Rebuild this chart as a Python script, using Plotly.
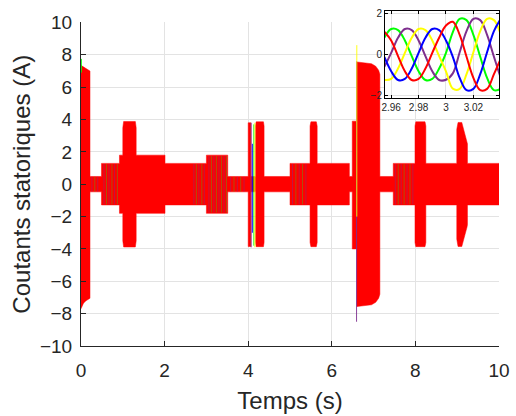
import plotly.graph_objects as go

# ---------------- main chart: envelope of the 5 stator currents ----------------
ENV_T = [0.0, 0.06, 0.12, 0.215, 0.215, 0.49, 0.49, 0.92, 0.92, 1.0, 1.0, 1.02, 1.30, 1.32, 1.32,
         2.01, 2.01, 3.0, 3.0, 3.51, 3.51, 4.0, 4.0, 4.065, 4.065, 4.175, 4.175, 4.19, 4.365, 4.38,
         4.38, 5.0, 5.0, 5.48, 5.48, 5.50, 5.63, 5.65, 5.65, 6.42, 6.42, 6.49, 6.49, 6.60, 6.60,
         6.95, 7.05, 7.12, 7.15, 7.15, 7.47, 7.47, 7.99, 7.99, 8.01, 8.23, 8.25, 8.25, 8.99, 8.99,
         9.02, 9.11, 9.235, 9.245, 9.245, 10.0]
ENV_UP = [7.35, 7.25, 7.15, 7.0, 0.48, 0.48, 1.29, 1.29, 1.8, 1.8, 3.5, 3.88, 3.88, 3.5, 1.8,
          1.8, 1.29, 1.29, 1.8, 1.8, 0.48, 0.48, 3.8, 3.8, 0.48, 0.48, 3.6, 3.86, 3.86, 3.6,
          0.48, 0.48, 1.29, 1.29, 3.6, 3.86, 3.86, 3.6, 1.29, 1.29, 0.48, 0.48, 3.9, 3.9, 7.56,
          7.45, 7.3, 7.05, 6.8, 0.48, 0.48, 1.29, 1.29, 3.6, 3.86, 3.86, 3.6, 1.29, 1.29, 3.4,
          3.82, 3.82, 2.6, 2.5, 1.29, 1.29]
ENV_LO = [-7.7, -7.35, -7.2, -7.05, -0.47, -0.47, -1.28, -1.28, -1.8, -1.8, -3.5, -3.88, -3.88, -3.5, -1.8,
          -1.8, -1.28, -1.28, -1.8, -1.8, -0.47, -0.47, -3.85, -3.85, -0.47, -0.47, -3.6, -3.86, -3.86, -3.6,
          -0.47, -0.47, -1.28, -1.28, -3.6, -3.86, -3.86, -3.6, -1.28, -1.28, -0.47, -0.47, -4.0, -4.0, -7.56,
          -7.45, -7.3, -7.05, -6.8, -0.47, -0.47, -1.28, -1.28, -3.6, -3.86, -3.86, -3.6, -1.28, -1.28, -3.4,
          -3.85, -3.85, -2.65, -2.5, -1.28, -1.28]

# thin coloured transients (other phases peeking out)
TIP_T = [0.01, 4.07, 4.10, 4.135, 4.16, 6.592, 6.598]
TIP_LO = [6.9, -3.9, -3.0, -3.8, -3.9, -8.5, -2.0]
TIP_HI = [7.75, 3.8, 2.5, 3.7, 3.8, 7.6, 8.6]
TIP_COL = ["#00ff00", "#7e2f8e", "#0000ff", "#00ff00", "#ffff00", "#7e2f8e", "#ffff00"]

# streaks of the other phases visible inside the red band (time, half-height)
STREAK_PURPLE_T = [0.26, 0.40, 0.55, 0.67, 0.80, 2.70, 2.82, 2.95, 3.06, 3.18, 3.30, 3.42,
                   3.58, 3.74, 3.90, 5.06, 5.22, 5.38, 7.52, 7.66, 7.80, 7.94]
STREAK_PURPLE_A = [0.46, 0.46, 1.25, 1.25, 1.25, 1.25, 1.25, 1.25, 1.75, 1.75, 1.75, 1.75,
                   0.46, 0.46, 0.46, 1.25, 1.25, 1.25, 1.25, 1.25, 1.25, 1.25]
STREAK_GREEN_T = [0.33, 0.61, 0.74, 0.87, 2.76, 2.89, 3.12, 3.24, 3.36, 3.48, 3.66, 3.82,
                  5.14, 5.30, 7.59, 7.73, 7.87]
STREAK_GREEN_A = [0.46, 1.25, 1.25, 1.25, 1.25, 1.25, 1.75, 1.75, 1.75, 1.75, 0.46, 0.46,
                  1.25, 1.25, 1.25, 1.25, 1.25]

# ---------------- inset: zoom around t = 3 s ----------------
ZT = [2.955, 2.960, 2.965, 2.970, 2.975, 2.980, 2.985, 2.990, 2.995, 3.000,
      3.005, 3.010, 3.015, 3.020, 3.025, 3.030, 3.035, 3.040]
I_GREEN = [0.81, 1.23, 1.18, 0.68, -0.08, -0.81, -1.23, -1.18, -0.68, 0.08,
           1.08, 1.72, 1.66, 0.95, -0.11, -1.13, -1.72, -1.66]
I_PURPLE = [-0.60, 0.08, 0.81, 1.23, 1.18, 0.68, -0.08, -0.81, -1.23, -1.22,
            -0.91, 0.11, 1.13, 1.72, 1.66, 0.95, -0.11, -1.13]
I_YELLOW = [-1.23, -1.18, -0.68, 0.08, 0.81, 1.23, 1.18, 0.68, -0.08, -0.81,
            -1.65, -1.66, -0.95, 0.11, 1.13, 1.72, 1.66, 0.95]
I_BLUE = [-0.12, -0.81, -1.23, -1.18, -0.68, 0.08, 0.81, 1.23, 1.18, 0.68,
          -0.11, -1.13, -1.72, -1.66, -0.95, 0.11, 1.13, 1.72]
I_RED = [1.10, 0.68, -0.08, -0.81, -1.23, -1.18, -0.68, 0.08, 0.81, 1.40,
         1.58, 0.95, -0.11, -1.13, -1.72, -1.66, -0.95, -0.20]

X_TICKS = [0, 2, 4, 6, 8, 10]
Y_TICKS = [-10, -8, -6, -4, -2, 0, 2, 4, 6, 8, 10]
ZX_TICKS = [2.96, 2.98, 3.0, 3.02]
ZX_LABELS = ["2.96", "2.98", "3", "3.02"]
ZY_TICKS = [-2, 0, 2]

FONT = "Liberation Sans, Arial, sans-serif"
AX = "#262626"
GRID = "#e3e3e3"


def segments(ts, amps):
    xs, ys = [], []
    for t, a in zip(ts, amps):
        xs += [t, t, None]
        ys += [-a, a, None]
    return xs, ys


fig = go.Figure()
fig.add_trace(go.Scatter(x=ENV_T + ENV_T[::-1], y=ENV_UP + ENV_LO[::-1], fill="toself",
                         fillcolor="#ff0000", line=dict(color="#ff0000", width=0.5),
                         mode="lines", showlegend=False, hoverinfo="skip"))
for ts, amps, c in [(STREAK_PURPLE_T, STREAK_PURPLE_A, "#7e2f8e"),
                    (STREAK_GREEN_T, STREAK_GREEN_A, "#4caf20")]:
    sx, sy = segments(ts, amps)
    fig.add_trace(go.Scatter(x=sx, y=sy, mode="lines", line=dict(color=c, width=1),
                             opacity=0.45, showlegend=False, hoverinfo="skip"))
for t, lo, hi, c in zip(TIP_T, TIP_LO, TIP_HI, TIP_COL):
    fig.add_trace(go.Scatter(x=[t, t], y=[lo, hi], mode="lines", line=dict(color=c, width=0.9),
                             showlegend=False, hoverinfo="skip"))

for ys, c in [(I_GREEN, "#00ff00"), (I_PURPLE, "#7e2f8e"), (I_YELLOW, "#ffff00"),
              (I_BLUE, "#0000ff"), (I_RED, "#ff0000")]:
    fig.add_trace(go.Scatter(x=ZT, y=ys, mode="lines", xaxis="x2", yaxis="y2",
                             line=dict(color=c, width=2, shape="spline", smoothing=1.0),
                             showlegend=False, hoverinfo="skip"))

fig.update_layout(
    width=516, height=416,
    margin=dict(l=81, r=17, t=11, b=70, autoexpand=False),
    paper_bgcolor="white", plot_bgcolor="white",
    font=dict(family=FONT, color=AX),
    xaxis=dict(domain=[0, 1], range=[0, 10], tickvals=X_TICKS, ticks="inside", ticklen=5,
               tickcolor=AX, showline=True, linecolor=AX, linewidth=1, showgrid=True,
               gridcolor=GRID, zeroline=False, tickfont=dict(size=19, color=AX),
               automargin=False, ticklabelstandoff=7,
               title=dict(text="Temps (s)", font=dict(size=24, color=AX), standoff=12)),
    yaxis=dict(domain=[0, 0.9657], range=[-10, 10], tickvals=Y_TICKS, ticks="inside", ticklen=5,
               tickcolor=AX, showline=True, linecolor=AX, linewidth=1, showgrid=True,
               gridcolor=GRID, zeroline=False, tickfont=dict(size=19, color=AX),
               automargin=False, ticklabelstandoff=4,
               title=dict(text="Coutants statoriques (A)", font=dict(size=24, color=AX), standoff=2)),
    xaxis2=dict(domain=[0.7273, 1.0], range=[2.9555, 3.0387], anchor="y2", tickvals=ZX_TICKS,
                ticktext=ZX_LABELS, ticks="inside", ticklen=3, tickcolor="black", showline=True,
                linecolor="black", linewidth=1, mirror="ticks", showgrid=True, gridcolor=GRID,
                zeroline=False, tickfont=dict(size=10, color=AX), automargin=False),
    yaxis2=dict(domain=[0.7403, 1.0], range=[-2.1, 2.1], anchor="x2", tickvals=ZY_TICKS,
                ticks="inside", ticklen=3, tickcolor="black", showline=True, linecolor="black",
                linewidth=1, mirror="ticks", showgrid=True, gridcolor=GRID, zeroline=False,
                tickfont=dict(size=10, color=AX), automargin=False),
)

fig.write_html("out.html")
